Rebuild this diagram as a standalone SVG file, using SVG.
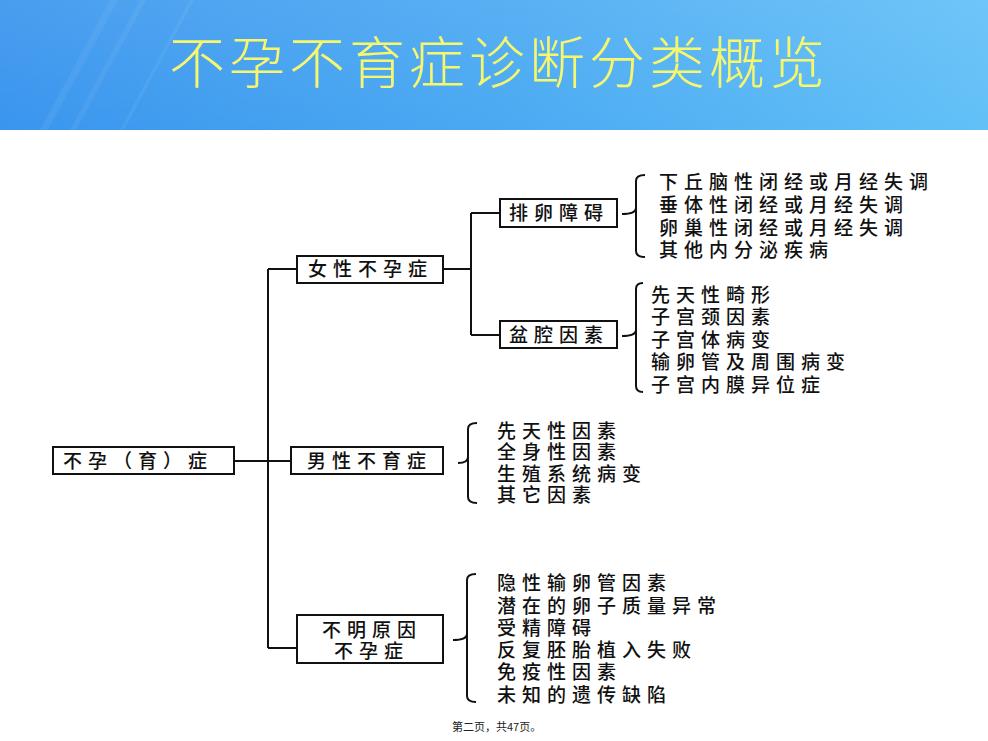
<svg xmlns="http://www.w3.org/2000/svg" width="988" height="741" viewBox="0 0 988 741">
<defs>
<linearGradient id="bg" x1="0" y1="0" x2="1" y2="0">
<stop offset="0" stop-color="#3A95EE"/>
<stop offset="0.5" stop-color="#4AA9F2"/>
<stop offset="1" stop-color="#62C0F7"/>
</linearGradient>
<linearGradient id="sheen" x1="0" y1="0" x2="0" y2="1">
<stop offset="0" stop-color="#FFFFFF" stop-opacity="0.08"/>
<stop offset="1" stop-color="#FFFFFF" stop-opacity="0"/>
</linearGradient>
</defs>
<style>
.t{font-family:"Noto Sans CJK SC","Noto Sans CJK JP",sans-serif;font-size:19px;letter-spacing:6px;fill:#111;font-weight:500}
.box{fill:#fff;stroke:#111;stroke-width:2}
.ln{fill:none;stroke:#111;stroke-width:2}
.title{font-family:"Noto Sans CJK SC",sans-serif;font-size:56px;letter-spacing:4px;fill:#F7F76E;font-weight:300}
.foot{font-family:"Noto Sans CJK SC",sans-serif;font-size:11px;fill:#222}
</style>
<rect width="988" height="741" fill="#fff"/>
<g id="banner">
<rect x="0" y="0" width="988" height="130" fill="url(#bg)"/>
<rect x="0" y="0" width="988" height="130" fill="url(#sheen)"/>
<path d="M40,130 L110,0 L118,0 L48,130 Z M70,130 L140,0 L146,0 L76,130 Z M120,130 L190,0 L194,0 L124,130 Z" fill="#fff" opacity="0.06"/>
<text class="title" x="169" y="83">不孕不育症诊断分类概览</text>
</g>
<g id="connectors">
<path class="ln" d="M234,461 H291"/>
<path class="ln" d="M268,269 V648"/>
<path class="ln" d="M268,269 H297"/>
<path class="ln" d="M268,648 H297"/>
<path class="ln" d="M443,269 H471"/>
<path class="ln" d="M471,213 V335"/>
<path class="ln" d="M471,213 H500"/>
<path class="ln" d="M471,335 H500"/>
<path class="ln" d="M645,175 Q636,175 636,181 V251 Q636,257 645,257 M622,214 Q636,214 636,208"/>
<path class="ln" d="M643,283 Q636,283 636,289 V386 Q636,392 643,392 M622,336 Q636,336 636,330"/>
<path class="ln" d="M477,423 Q468,423 468,429 V497 Q468,503 477,503 M458,463 Q468,463 468,457"/>
<path class="ln" d="M476,574 Q467,574 467,580 V696 Q467,702 476,702 M453,640 Q467,640 467,634"/>
</g>
<g id="root">
<rect class="box" x="53" y="447" width="181" height="27"/>
<text class="t" x="63" y="468">不孕（育）症</text>
</g>
<g id="female">
<rect class="box" x="297" y="256" width="146" height="27"/>
<text class="t" x="308" y="276">女性不孕症</text>
</g>
<g id="male">
<rect class="box" x="291" y="447" width="152" height="27"/>
<text class="t" x="307" y="468">男性不育症</text>
</g>
<g id="unknown">
<rect class="box" x="297" y="615" width="146" height="48"/>
<text class="t" x="322" y="637">不明原因</text>
<text class="t" x="334" y="658">不孕症</text>
</g>
<g id="ovulation">
<rect class="box" x="500" y="199" width="117" height="28"/>
<text class="t" x="509" y="220">排卵障碍</text>
</g>
<g id="pelvic">
<rect class="box" x="500" y="321" width="117" height="27"/>
<text class="t" x="509" y="342">盆腔因素</text>
</g>
<g id="ovulation-items">
<text class="t" x="659" y="189">下丘脑性闭经或月经失调</text>
<text class="t" x="659" y="212">垂体性闭经或月经失调</text>
<text class="t" x="659" y="235">卵巢性闭经或月经失调</text>
<text class="t" x="659" y="257">其他内分泌疾病</text>
</g>
<g id="pelvic-items">
<text class="t" x="651" y="302">先天性畸形</text>
<text class="t" x="651" y="324">子宫颈因素</text>
<text class="t" x="651" y="347">子宫体病变</text>
<text class="t" x="651" y="369">输卵管及周围病变</text>
<text class="t" x="651" y="392">子宫内膜异位症</text>
</g>
<g id="male-items">
<text class="t" x="497" y="438">先天性因素</text>
<text class="t" x="497" y="459">全身性因素</text>
<text class="t" x="497" y="481">生殖系统病变</text>
<text class="t" x="497" y="502">其它因素</text>
</g>
<g id="unknown-items">
<text class="t" x="497" y="590">隐性输卵管因素</text>
<text class="t" x="497" y="613">潜在的卵子质量异常</text>
<text class="t" x="497" y="635">受精障碍</text>
<text class="t" x="497" y="657">反复胚胎植入失败</text>
<text class="t" x="497" y="679">免疫性因素</text>
<text class="t" x="497" y="702">未知的遗传缺陷</text>
</g>
<text class="foot" x="452" y="731">第二页，共47页。</text>
</svg>
